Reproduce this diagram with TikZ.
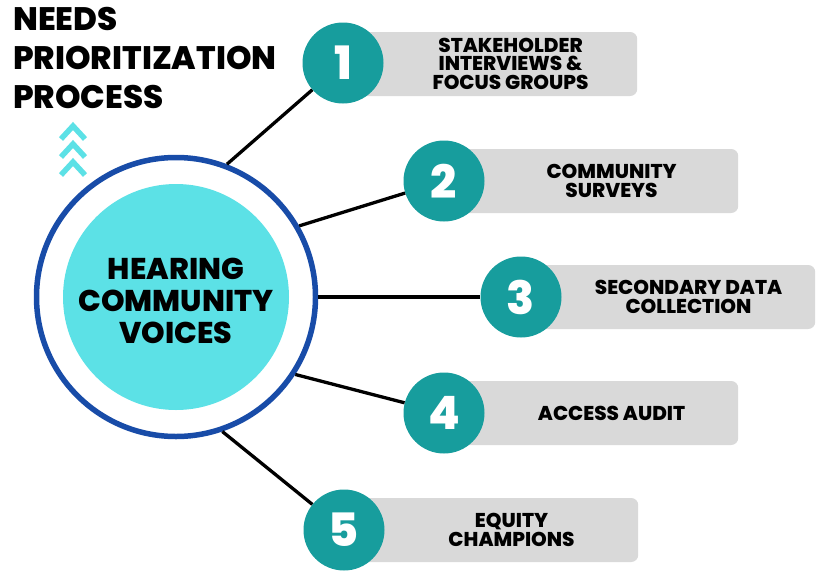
\documentclass[tikz,border=0pt]{standalone}
\usepackage{fontspec}
\newfontfamily\pop{Poppins}[BoldFont={* ExtraBold}]
\usetikzlibrary{calc}
\definecolor{tealc}{RGB}{23,157,157}
\definecolor{cyanc}{RGB}{92,225,230}
\definecolor{ringblue}{RGB}{24,76,168}
\definecolor{boxgray}{RGB}{217,217,217}
\tikzset{
  numc/.style={circle, fill=tealc, minimum size=81pt, inner sep=0pt, text=white,
    font=\pop\bfseries\fontsize{46}{46}\selectfont},
  itembox/.style={rectangle, rounded corners=7pt, fill=boxgray, minimum height=64pt,
    minimum width=294pt, anchor=west, inner sep=0pt},
  itemtext/.style={align=center, inner sep=0pt, text=black,
    font=\pop\bfseries\fontsize{20}{18.5}\selectfont},
  titletext/.style={anchor=base west, inner sep=0pt, text=black,
    font=\pop\bfseries\fontsize{32.5}{32.5}\selectfont},
  conn/.style={line width=3.3pt, black},
  chev/.style={line width=5.5pt, cyanc, miter limit=4}
}
\begin{document}
\begin{tikzpicture}[x=1pt,y=-1pt]
\useasboundingbox (0,0) rectangle (822,571);
\fill[white] (0,0) rectangle (822,571);

% title
\node[titletext] (t1) at (13,30) {NEEDS};
\node[titletext] (t2) at (13,69) {PRIORITIZATION};
\node[titletext] (t3) at (13,108) {PROCESS};

% chevrons
\foreach \k in {0,1,2}{
  \draw[chev] (61,{139+18*\k}) -- (73,{126+18*\k}) -- (85,{139+18*\k});
}

% central circles
\node[circle, fill=cyanc, minimum size=226pt, inner sep=0pt] (inner) at (176,297) {};
\node[circle, draw=ringblue, line width=5.5pt, minimum size=279pt, inner sep=0pt] (outer) at (176,297) {};
\node[align=center, inner sep=0pt, text=black,
  font=\pop\bfseries\fontsize{30}{32}\selectfont] (ctext) at (176,301) {HEARING\\COMMUNITY\\VOICES};

% boxes
\node[itembox] (b1) at (343,64) {};
\node[itembox] (b2) at (444,181) {};
\node[itembox] (b3) at (521,297) {};
\node[itembox] (b4) at (444,413) {};
\node[itembox] (b5) at (344,530) {};

% number circles
\node[numc] (n1) at (343,63) {1};
\node[numc] (n2) at (444,181) {2};
\node[numc] (n3) at (521,297) {3};
\node[numc] (n4) at (444,413) {4};
\node[numc] (n5) at (344,530) {5};

% connectors
\draw[conn] (outer.69) -- (n1);
\draw[conn] (outer.30.5) -- (n2);
\draw[conn] (outer.0) -- (n3);
\draw[conn] (outer.-33.5) -- (n4);
\draw[conn] (outer.-71) -- (n5);

% item texts
\node[itemtext] (i1) at ($(n1.east)!0.5!(b1.east)$) {STAKEHOLDER\\INTERVIEWS \&\\FOCUS GROUPS};
\node[itemtext] (i2) at ($(n2.east)!0.5!(b2.east)$) {COMMUNITY\\SURVEYS};
\node[itemtext] (i3) at ($(n3.east)!0.5!(b3.east)$) {SECONDARY DATA\\COLLECTION};
\node[itemtext] (i4) at ($(n4.east)!0.5!(b4.east)$) {ACCESS AUDIT};
\node[itemtext] (i5) at ($(n5.east)!0.5!(b5.east)$) {EQUITY\\CHAMPIONS};
\end{tikzpicture}
\end{document}
